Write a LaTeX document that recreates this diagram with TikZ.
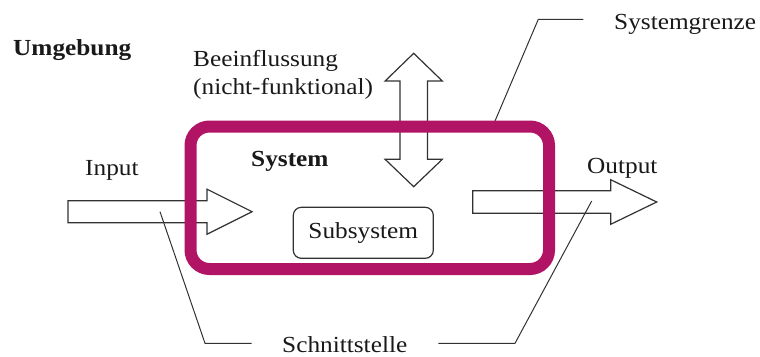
\documentclass[tikz,border=0pt]{standalone}
\usepackage{fontspec}
\setmainfont[FakeStretch=1.1]{Liberation Serif}
\definecolor{sysmag}{RGB}{177,19,101}
\definecolor{ink}{RGB}{50,50,50}
\definecolor{txt}{RGB}{25,25,25}
\begin{document}
\begin{tikzpicture}[x=1pt,y=-1pt,
  lbl/.style={anchor=base west,inner sep=0pt,font=\fontsize{23}{27}\selectfont,text=txt},
  blbl/.style={lbl,font=\fontsize{23}{27}\selectfont\bfseries},
  outl/.style={draw=ink,line width=1.2pt,fill=white,line join=miter},
  leader/.style={draw=ink,line width=1pt},
  bnd/.style={draw=sysmag,line width=12pt,rounded corners=19pt},
  subbox/.style={draw=ink,line width=1.2pt,rounded corners=8pt,minimum width=140pt,minimum height=51pt,inner sep=0pt,font=\fontsize{23}{27}\selectfont,text=txt}]
\useasboundingbox (0,0) rectangle (760,356);

% texts
\node[blbl] (umg) at (13,55) {Umgebung};
\node[lbl] (bee) at (193,66) {Beeinflussung};
\node[lbl] (nf) at (193,94) {(nicht-funktional)};
\node[blbl] (sys) at (251,166.5) {System};
\node[lbl] (inp) at (85,175) {Input};
\node[lbl] (outp) at (587,173) {Output};
\node[lbl] (sg) at (614,29) {Systemgrenze};
\node[lbl] (schn) at (282,352) {Schnittstelle};

% arrows
\path[outl] (68,200.7) -- (207,200.7) -- (207,189.2) -- (252,211.7) -- (207,234.2) -- (207,222.7) -- (68,222.7) -- cycle;
\path[outl] (472.7,190.7) -- (610.7,190.7) -- (610.7,179.7) -- (656.7,202) -- (610.7,224.3) -- (610.7,213.3) -- (472.7,213.3) -- cycle;
\path[outl] (413.7,53.3) -- (442.3,81) -- (427.5,81) -- (427.5,159.3) -- (442.3,159.3) -- (413.7,186.7)
  -- (385.1,159.3) -- (399.9,159.3) -- (399.9,81) -- (385.1,81) -- cycle;

% subsystem
\node[subbox] (sub) at (363.3,232.8) {Subsystem};

% leader lines
\coordinate (inA) at (160,211.7);
\coordinate (inB) at (205,343.3);
\coordinate (inC) at (251.7,343.3);
\coordinate (outA) at (591.7,201);
\coordinate (outB) at (515,343.3);
\coordinate (outC) at (438.3,343.3);
\coordinate (sgA) at (495,121);
\coordinate (sgB) at (538.3,19.3);
\coordinate (sgC) at (583.3,19.3);
\draw[leader] (inA) -- (inB) -- (inC);
\draw[leader] (outA) -- (outB) -- (outC);
\draw[leader] (sgA) -- (sgB) -- (sgC);

% system boundary
\draw[bnd] (190.5,126.5) rectangle (549,269);
\end{tikzpicture}
\end{document}
